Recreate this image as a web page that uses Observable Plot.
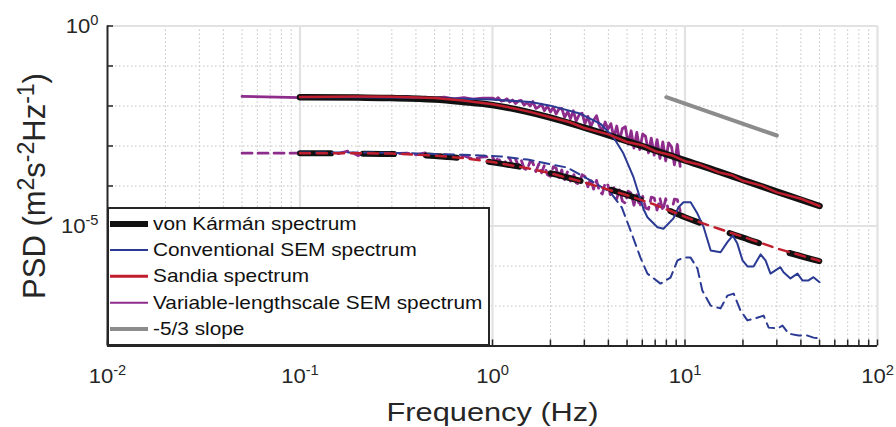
<!DOCTYPE html>
<html>
<head>
<meta charset="utf-8">
<script src="https://cdn.jsdelivr.net/npm/d3@7"></script>
<script src="https://cdn.jsdelivr.net/npm/@observablehq/plot@0.6"></script>
<style>
  body { margin: 0; background: #fff; }
  #wrap { position: relative; width: 896px; height: 427px; font-family: "Liberation Sans", Arial, Helvetica, sans-serif; }
  #legend { position: absolute; left: 107px; top: 207px; width: 383px; height: 139px; box-sizing: border-box;
            border: 2px solid #262626; background: #fff; }
  .item { position: absolute; left: 0; width: 100%; height: 26px; }
  .sw { position: absolute; left: 1px; width: 38px; top: 50%; transform: translateY(-50%); }
  .lbl { position: absolute; left: 44px; top: 0; line-height: 26px; font-size: 18.5px; color: #111;
         white-space: nowrap; transform: scaleX(1.125); transform-origin: left center; }
</style>
</head>
<body>
<div id="wrap"><div id="legend"></div></div>
<script>
// ---------- axes / ticks ----------
const xTicks = [0.01, 0.1, 1, 10, 100];
const xTickLabels = ["10^{-2}", "10^{-1}", "10^{0}", "10^{1}", "10^{2}"];
const yTicks = [1e-5, 1];
const yTickLabels = ["10^{-5}", "10^{0}"];
const xGridMajor = [0.1, 1, 10, 100];
const yGridMajor = [1e-5, 1];
const xMinor = [0.02, 0.03, 0.04, 0.05, 0.06, 0.07, 0.08, 0.09,
                0.2, 0.3, 0.4, 0.5, 0.6, 0.7, 0.8, 0.9,
                2, 3, 4, 5, 6, 7, 8, 9,
                20, 30, 40, 50, 60, 70, 80, 90];
const yMinor = [1e-1, 1e-2, 1e-3, 1e-4, 1e-6, 1e-7];
const xAllTicks = [0.01, 0.02, 0.03, 0.04, 0.05, 0.06, 0.07, 0.08, 0.09,
                   0.1, 0.2, 0.3, 0.4, 0.5, 0.6, 0.7, 0.8, 0.9,
                   1, 2, 3, 4, 5, 6, 7, 8, 9,
                   10, 20, 30, 40, 50, 60, 70, 80, 90, 100];
const yAllTicks = [1e-8, 1e-7, 1e-6, 1e-5, 1e-4, 1e-3, 1e-2, 1e-1, 1];

// ---------- series ----------
const seriesNames = ["von Kármán spectrum", "Conventional SEM spectrum", "Sandia spectrum",
                     "Variable-lengthscale SEM spectrum", "-5/3 slope"];
const seriesColors = ["#111111", "#2b3a93", "#be1e2d", "#8e2c8c", "#8c8c8c"];

// von Kármán (solid = upper component, dashed = lower component)
const vkF = [0.1, 0.2, 0.3, 0.5, 0.7, 1, 1.5, 2, 3, 5, 7, 10, 15, 20, 30, 50];
const vkUpper = [1.66e-2, 1.62e-2, 1.58e-2, 1.45e-2, 1.26e-2, 1.05e-2, 7.24e-3, 5.13e-3,
                 2.88e-3, 1.32e-3, 7.76e-4, 4.37e-4, 2.29e-4, 1.41e-4, 7.24e-5, 3.16e-5];
const vkLower = [6.61e-4, 6.46e-4, 6.31e-4, 5.62e-4, 4.90e-4, 3.89e-4, 2.82e-4, 2.09e-4,
                 1.26e-4, 6.03e-5, 3.39e-5, 1.66e-5, 8.13e-6, 5.13e-6, 2.63e-6, 1.32e-6];

// Sandia
const sandiaUpperF = [0.1, 0.2, 0.3, 0.5, 0.7, 1, 1.3, 1.6, 2, 2.5, 3, 4, 5, 6, 7, 8.5,
                      10, 12, 15, 17.5, 20, 25, 30, 40, 50];
const sandiaUpper = [1.68e-2, 1.72e-2, 1.70e-2, 1.58e-2, 1.38e-2, 1.10e-2, 8.71e-3, 6.92e-3,
                     5.25e-3, 3.98e-3, 2.82e-3, 1.95e-3, 1.26e-3, 1.05e-3, 7.41e-4, 5.89e-4,
                     4.17e-4, 3.39e-4, 2.19e-4, 1.86e-4, 1.35e-4, 1.02e-4, 6.92e-5, 4.79e-5, 3.16e-5];
const sandiaLowerF = [0.1, 0.2, 0.3, 0.5, 0.7, 1, 1.5, 2, 3, 5, 7, 10, 12.5, 15, 20, 30, 50];
const sandiaLower = [6.61e-4, 6.61e-4, 6.46e-4, 5.75e-4, 5.01e-4, 3.98e-4, 2.82e-4, 2.09e-4,
                     1.23e-4, 5.89e-5, 3.39e-5, 1.70e-5, 1.15e-5, 8.51e-6, 5.37e-6, 2.75e-6, 1.35e-6];

// Conventional SEM
const semUpperF = [0.1, 0.2, 0.3, 0.5, 0.7, 0.98, 1.58, 2.0, 2.87, 3.64, 4.25, 4.79, 5.4, 5.87,
                   6.09, 6.38, 7.19, 7.73, 8.71, 9.25, 9.82, 10.7, 11.6, 12.5, 13.6, 15.3, 16.6,
                   17.7, 18.7, 19.9, 21.1, 22.7, 24.7, 26.2, 27.8, 31.3, 32.5, 35.3, 38.4, 40.7,
                   43.8, 46.5, 50];
const semUpper = [1.66e-2, 1.66e-2, 1.64e-2, 1.58e-2, 1.51e-2, 1.45e-2, 1.26e-2, 1.02e-2, 6.38e-3,
                  3.59e-3, 1.66e-3, 6.46e-4, 1.66e-4, 4.68e-5, 2.63e-5, 1.66e-5, 9.33e-6, 8.51e-6,
                  1.55e-5, 2.95e-5, 3.94e-5, 3.94e-5, 2.04e-5, 9.33e-6, 2.45e-6, 2.21e-6, 3.94e-6,
                  5.75e-6, 3.63e-6, 1.38e-6, 9.77e-7, 9.77e-7, 1.95e-6, 1.38e-6, 6.46e-7, 9.33e-7,
                  7.00e-7, 4.90e-7, 6.46e-7, 4.37e-7, 4.37e-7, 5.25e-7, 3.94e-7];
const semLowerF = [0.1, 0.2, 0.3, 0.5, 0.7, 1.1, 1.52, 2.45, 3.23, 4.1, 4.7, 5.21, 5.87, 6.38,
                   7.46, 8.41, 9.14, 9.82, 10.7, 11.6, 12.3, 13.6, 15.3, 16.6, 17.9, 19.4, 21.1,
                   23.2, 25.6, 27.2, 30.3, 32.1, 34.5, 38.9, 43.3, 46.5, 50];
const semLower = [6.92e-4, 6.92e-4, 6.76e-4, 6.31e-4, 6.03e-4, 5.50e-4, 4.57e-4, 2.88e-4, 1.38e-4,
                  6.92e-5, 2.88e-5, 7.76e-6, 1.62e-6, 6.46e-7, 3.63e-7, 5.13e-7, 1.38e-6, 1.62e-6,
                  1.62e-6, 8.71e-7, 2.45e-7, 1.02e-7, 8.71e-8, 1.82e-7, 2.04e-7, 7.76e-8, 4.37e-8,
                  4.90e-8, 5.75e-8, 2.88e-8, 2.75e-8, 3.24e-8, 2.04e-8, 1.82e-8, 1.82e-8, 1.62e-8,
                  1.55e-8];

// Variable-lengthscale SEM (noisy)
const varLowF = [0.05, 0.1, 0.126, 0.158, 0.18, 0.2, 0.22, 0.25, 0.32, 0.36, 0.4, 0.45, 0.5,
                 0.56, 0.63, 0.71, 0.79, 0.89];
const varUpperLow = [1.74e-2, 1.62e-2, 1.70e-2, 1.66e-2, 1.70e-2, 1.74e-2, 1.66e-2, 1.62e-2,
                     1.66e-2, 1.74e-2, 1.58e-2, 1.66e-2, 1.58e-2, 1.66e-2, 1.51e-2, 1.62e-2,
                     1.48e-2, 1.58e-2];
const varLowerLow = [6.61e-4, 6.61e-4, 6.76e-4, 6.46e-4, 7.59e-4, 5.75e-4, 7.08e-4, 6.31e-4,
                     6.46e-4, 6.61e-4, 6.03e-4, 6.76e-4, 5.62e-4, 6.17e-4, 5.25e-4, 5.75e-4,
                     4.68e-4, 5.37e-4];
const varHighF = [1.0, 1.04, 1.07, 1.11, 1.15, 1.19, 1.23, 1.27, 1.32, 1.37, 1.41, 1.46, 1.51,
                  1.57, 1.62, 1.68, 1.74, 1.8, 1.86, 1.93, 2.0, 2.07, 2.14, 2.21, 2.29, 2.37, 2.46,
                  2.54, 2.63, 2.72, 2.82, 2.92, 3.02, 3.13, 3.24, 3.35, 3.47, 3.59, 3.72, 3.85,
                  3.98, 4.12, 4.27, 4.42, 4.57, 4.73, 4.9, 5.07, 5.25, 5.43, 5.62, 5.82, 6.03,
                  6.24, 6.46, 6.68, 6.92, 7.16, 7.41, 7.67, 7.94, 8.22, 8.51, 8.81, 9.12, 9.44];
const varUpperHigh = [1.58e-2, 1.45e-2, 1.62e-2, 1.32e-2, 1.38e-2, 1.51e-2, 1.26e-2, 1.41e-2,
                      1.15e-2, 1.35e-2, 1.38e-2, 1.05e-2, 1.23e-2, 1.00e-2, 1.29e-2, 8.71e-3,
                      9.55e-3, 1.10e-2, 7.59e-3, 1.00e-2, 7.08e-3, 9.33e-3, 6.31e-3, 8.32e-3,
                      8.71e-3, 5.25e-3, 7.24e-3, 4.79e-3, 7.59e-3, 4.17e-3, 6.03e-3, 6.61e-3,
                      3.63e-3, 5.50e-3, 3.02e-3, 4.37e-3, 5.75e-3, 3.16e-3, 2.40e-3, 3.98e-3,
                      2.63e-3, 3.63e-3, 1.62e-3, 3.16e-3, 1.35e-3, 2.75e-3, 3.02e-3, 1.12e-3,
                      2.40e-3, 8.91e-4, 2.19e-3, 8.13e-4, 2.00e-3, 1.74e-3, 6.76e-4, 1.58e-3,
                      5.89e-4, 1.45e-3, 4.90e-4, 1.26e-3, 4.27e-4, 1.20e-3, 9.55e-4, 3.39e-4,
                      1.10e-3, 3.09e-4];
const varLowerHigh = [5.25e-4, 3.80e-4, 5.37e-4, 3.63e-4, 3.47e-4, 5.01e-4, 4.90e-4, 3.16e-4,
                      4.57e-4, 3.02e-4, 4.47e-4, 2.75e-4, 2.51e-4, 4.17e-4, 3.80e-4, 2.29e-4,
                      3.55e-4, 2.14e-4, 3.31e-4, 1.91e-4, 1.74e-4, 3.02e-4, 2.82e-4, 1.58e-4,
                      2.51e-4, 1.45e-4, 2.34e-4, 1.32e-4, 2.14e-4, 1.20e-4, 1.10e-4, 1.91e-4,
                      1.74e-4, 9.55e-5, 1.58e-4, 8.32e-5, 1.38e-4, 7.41e-5, 6.31e-5, 1.20e-4,
                      1.05e-4, 5.50e-5, 9.12e-5, 4.79e-5, 8.32e-5, 4.17e-5, 3.72e-5, 7.41e-5,
                      6.61e-5, 3.31e-5, 6.03e-5, 3.02e-5, 5.50e-5, 2.82e-5, 2.63e-5, 5.25e-5,
                      5.01e-5, 2.51e-5, 4.90e-5, 2.40e-5, 4.79e-5, 2.34e-5, 2.29e-5, 4.68e-5,
                      4.57e-5, 2.40e-5];

// -5/3 reference slope
const slopeF = [8, 30];
const slopePSD = [1.66e-2, 1.83e-3];

// ---------- tables ----------
const zip = (fs, ps) => fs.map((f, i) => ({f, psd: ps[i]}));
const vkU = zip(vkF, vkUpper), vkL = zip(vkF, vkLower);
const saU = zip(sandiaUpperF, sandiaUpper), saL = zip(sandiaLowerF, sandiaLower);
const seU = zip(semUpperF, semUpper), seL = zip(semLowerF, semLower);
const vaU = zip(varLowF.concat(varHighF), varUpperLow.concat(varUpperHigh));
const vaL = zip(varLowF.concat(varHighF), varLowerLow.concat(varLowerHigh));
const sl = zip(slopeF, slopePSD);

const AX = "#262626";
const [cK, cB, cR, cP, cG] = seriesColors;

const plot = Plot.plot({
  width: 896, height: 427,
  marginLeft: 107, marginRight: 19, marginTop: 25.5, marginBottom: 81.5,
  x: {type: "log", domain: [0.01, 100]},
  y: {type: "log", domain: [1e-8, 1]},
  style: {fontFamily: "'Liberation Sans', Arial, Helvetica, sans-serif", background: "#fff", overflow: "visible"},
  marks: [
    // grid
    Plot.ruleX(xMinor, {stroke: "#c2c2c2", strokeWidth: 1, strokeDasharray: "1.5,2.5"}),
    Plot.ruleY(yMinor, {stroke: "#c2c2c2", strokeWidth: 1, strokeDasharray: "1.5,2.5"}),
    Plot.ruleX(xGridMajor, {stroke: "#e2e2e2", strokeWidth: 2.2}),
    Plot.ruleY(yGridMajor, {stroke: "#e2e2e2", strokeWidth: 2}),
    // ticks (inward)
    Plot.axisX({ticks: xAllTicks, tickSize: 6, dy: -6, tickFormat: () => "", color: AX, strokeWidth: 1.5, label: null}),
    Plot.axisY({ticks: yAllTicks, tickSize: 6, dx: 6, tickFormat: () => "", color: AX, strokeWidth: 1.5, label: null}),
    // tick labels
    Plot.axisX({ticks: xTicks, tickSize: 0, tickPadding: 22, tickFormat: d => xTickLabels[xTicks.indexOf(d)],
                fontSize: 21, color: AX, label: null}),
    Plot.axisY({ticks: yTicks, tickSize: 0, tickPadding: 9, tickFormat: d => yTickLabels[yTicks.indexOf(d)],
                fontSize: 21, color: AX, label: null}),
    // data
    Plot.line(vaU, {x: "f", y: "psd", stroke: cP, strokeWidth: 2.8}),
    Plot.line(vaL, {x: "f", y: "psd", stroke: cP, strokeWidth: 2.8, strokeDasharray: "10,6"}),
    Plot.line(vkU, {x: "f", y: "psd", stroke: cK, strokeWidth: 6.5, curve: "monotone-x"}),
    Plot.line(vkL, {x: "f", y: "psd", stroke: cK, strokeWidth: 6, strokeDasharray: "31,32", curve: "monotone-x"}),
    Plot.line(seU, {x: "f", y: "psd", stroke: cB, strokeWidth: 2}),
    Plot.line(seL, {x: "f", y: "psd", stroke: cB, strokeWidth: 2, strokeDasharray: "10,6"}),
    Plot.line(saU, {x: "f", y: "psd", stroke: cR, strokeWidth: 2.5}),
    Plot.line(saL, {x: "f", y: "psd", stroke: cR, strokeWidth: 2.5, strokeDasharray: "10,7"}),
    Plot.line(sl, {x: "f", y: "psd", stroke: cG, strokeWidth: 4}),
    // axis lines
    Plot.ruleX([0.01], {stroke: AX, strokeWidth: 2}),
    Plot.ruleY([1e-8], {stroke: AX, strokeWidth: 2}),
    // axis titles
    Plot.text(["Frequency (Hz)"], {text: d => d, frameAnchor: "bottom", textAnchor: "middle", lineAnchor: "middle",
                                   dy: 66.5, fontSize: 25, fill: AX}),
    Plot.text(["PSD (m^{2}s^{-2}Hz^{-1})"], {text: d => d, frameAnchor: "left", textAnchor: "middle", lineAnchor: "middle",
                                             rotate: -90, dx: -72, fontSize: 31, fill: AX})
  ]
});

// ---------- superscripts & horizontal stretch ----------
const NS = "http://www.w3.org/2000/svg";
function supify(el, supSize, rise) {
  const s = el.textContent;
  if (!s.includes("^{")) return;
  const parts = s.split(/\^\{([^}]*)\}/);
  el.textContent = "";
  let up = false;
  parts.forEach((p, i) => {
    if (p === "") return;
    const t = document.createElementNS(NS, "tspan");
    if (i % 2 === 1) {
      t.setAttribute("font-size", supSize);
      if (!up) { t.setAttribute("dy", -rise); up = true; }
    } else if (up) { t.setAttribute("dy", rise); up = false; }
    t.textContent = p;
    el.appendChild(t);
  });
}
function stretch(el, s) {
  const tr = el.getAttribute("transform");
  if (tr) el.setAttribute("transform", tr + ` scale(${s},1)`);
  else {
    const x = +el.getAttribute("x") || 0, y = +el.getAttribute("y") || 0;
    el.setAttribute("transform", `translate(${x},${y}) scale(${s},1) translate(${-x},${-y})`);
  }
}
d3.select(plot).selectAll("text").each(function() {
  const s = this.textContent;
  if (s.startsWith("PSD")) { supify(this, 23, 11); }
  else if (s.startsWith("10^")) { supify(this, 14, 8); stretch(this, 1.05); }
  else if (s.startsWith("Frequency")) { stretch(this, 1.23); }
});

document.getElementById("wrap").prepend(plot);

// ---------- legend ----------
const legendStyles = [
  {w: 6, c: cK}, {w: 2, c: cB}, {w: 2.5, c: cR}, {w: 2.5, c: cP}, {w: 4, c: cG}
];
const legend = document.getElementById("legend");
seriesNames.forEach((name, i) => {
  const item = document.createElement("div");
  item.className = "item";
  item.style.top = (2 + i * 26.2) + "px";
  const sw = document.createElement("div");
  sw.className = "sw";
  sw.style.height = legendStyles[i].w + "px";
  sw.style.background = legendStyles[i].c;
  const lb = document.createElement("div");
  lb.className = "lbl";
  lb.textContent = name;
  item.appendChild(sw); item.appendChild(lb);
  legend.appendChild(item);
});
</script>
</body>
</html>
